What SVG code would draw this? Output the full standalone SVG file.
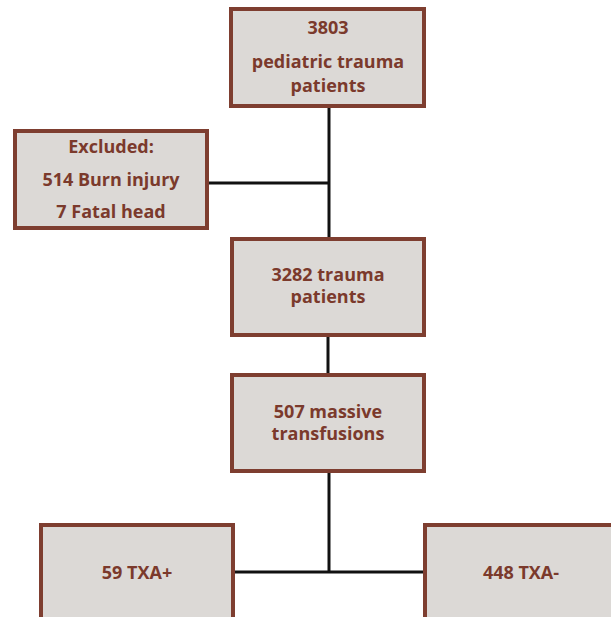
<svg xmlns="http://www.w3.org/2000/svg" width="611" height="617" viewBox="0 0 611 617">
<style>
.box{fill:#dcd9d6;stroke:#7e3e30;stroke-width:4}
.t{font-family:"Open Sans","Liberation Sans",sans-serif;font-weight:bold;font-size:18px;fill:#7b3a2c;text-anchor:middle}
.c{stroke:#111;stroke-width:3;fill:none}
</style>
<rect width="611" height="617" fill="#ffffff"/>
<g id="connectors">
<line class="c" x1="329" y1="108" x2="329" y2="237"/>
<line class="c" x1="209" y1="183" x2="329" y2="183"/>
<line class="c" x1="328" y1="337" x2="328" y2="373"/>
<line class="c" x1="329" y1="473" x2="329" y2="572"/>
<line class="c" x1="235" y1="572" x2="423" y2="572"/>
</g>
<g id="n3803">
<rect class="box" x="231" y="9" width="193" height="97"/>
<text class="t" x="328" y="34">3803</text>
<text class="t" x="328" y="68">pediatric trauma</text>
<text class="t" x="328" y="92">patients</text>
</g>
<g id="excluded">
<rect class="box" x="15" y="131" width="192" height="97"/>
<text class="t" x="111" y="153">Excluded:</text>
<text class="t" x="111" y="186">514 Burn injury</text>
<text class="t" x="111" y="218">7 Fatal head</text>
</g>
<g id="n3282">
<rect class="box" x="232" y="239" width="192" height="96"/>
<text class="t" x="328" y="281">3282 trauma</text>
<text class="t" x="328" y="303">patients</text>
</g>
<g id="n507">
<rect class="box" x="232" y="375" width="192" height="96"/>
<text class="t" x="328" y="418">507 massive</text>
<text class="t" x="328" y="440">transfusions</text>
</g>
<g id="txaPos">
<rect class="box" x="41" y="525" width="192" height="100"/>
<text class="t" x="137" y="579">59 TXA+</text>
</g>
<g id="txaNeg">
<rect class="box" x="425" y="525" width="192" height="100"/>
<text class="t" x="521" y="579">448 TXA-</text>
</g>
</svg>
